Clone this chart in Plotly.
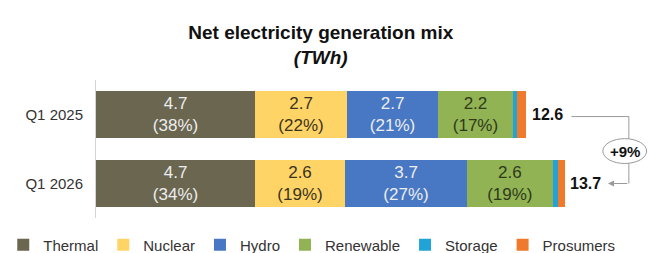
import plotly.graph_objects as go

categories = ["Q1 2025", "Q1 2026"]
series = ["Thermal", "Nuclear", "Hydro", "Renewable", "Storage", "Prosumers"]
thermal = [4.65, 4.65]
nuclear = [2.69, 2.63]
hydro = [2.66, 3.57]
renewable = [2.19, 2.50]
storage = [0.12, 0.16]
prosumers = [0.26, 0.20]
value_labels = {
    "Thermal": ["4.7", "4.7"],
    "Nuclear": ["2.7", "2.6"],
    "Hydro": ["2.7", "3.7"],
    "Renewable": ["2.2", "2.6"],
}
share_labels = {
    "Thermal": ["(38%)", "(34%)"],
    "Nuclear": ["(22%)", "(19%)"],
    "Hydro": ["(21%)", "(27%)"],
    "Renewable": ["(17%)", "(19%)"],
}
totals = [12.6, 13.7]
total_labels = ["12.6", "13.7"]
change_label = "+9%"

values = {"Thermal": thermal, "Nuclear": nuclear, "Hydro": hydro,
          "Renewable": renewable, "Storage": storage, "Prosumers": prosumers}
colors = {"Thermal": "#6A6650", "Nuclear": "#FFD466", "Hydro": "#4878C4",
          "Renewable": "#91B354", "Storage": "#22A3D8", "Prosumers": "#F07A2C"}
text_colors = {"Thermal": "#EDEDED", "Nuclear": "#3A3320", "Hydro": "#EDEDED",
               "Renewable": "#2E3A1A"}

FONT = "Liberation Sans, Arial, sans-serif"
fig = go.Figure()
for s in series:
    if s in value_labels:
        txt = [f"{v}<br>{p}" for v, p in zip(value_labels[s], share_labels[s])]
    else:
        txt = None
    fig.add_trace(go.Bar(
        name=s, y=categories, x=values[s], orientation="h",
        marker=dict(color=colors[s], line=dict(width=0)),
        text=txt, textposition="inside" if txt else "none",
        insidetextanchor="middle", constraintext="none",
        textfont=dict(family=FONT, size=17, color=text_colors.get(s, "#000")),
        hoverinfo="skip",
    ))

for c, t, lab in zip(categories, totals, total_labels):
    fig.add_annotation(x=t, y=c, text=f"<b>{lab}</b>", showarrow=False,
                       xanchor="left", xshift=3,
                       font=dict(family=FONT, size=16, color="#111"))

# bracket showing change
bx = 15.58
fig.add_shape(type="line", x0=13.9, x1=bx, y0=0.03, y1=0.03,
              line=dict(color="#9A9A9A", width=1))
fig.add_shape(type="line", x0=bx, x1=bx, y0=0.03, y1=0.35,
              line=dict(color="#9A9A9A", width=1))
fig.add_shape(type="circle", x0=14.82, x1=16.1, y0=0.35, y1=0.71,
              line=dict(color="#9A9A9A", width=1), fillcolor="white")
fig.add_shape(type="line", x0=bx, x1=bx, y0=0.71, y1=1.0,
              line=dict(color="#9A9A9A", width=1))
fig.add_annotation(x=14.97, y=1.0, ax=bx, ay=1.0, axref="x", ayref="y",
                   xref="x", yref="y", text="", showarrow=True,
                   arrowhead=2, arrowsize=1.2, arrowwidth=1, arrowcolor="#9A9A9A")
fig.add_annotation(x=(14.82 + 16.1) / 2, y=0.53, text=f"<b>{change_label}</b>",
                   showarrow=False, font=dict(family=FONT, size=15, color="#111"))

fig.update_layout(
    barmode="stack", bargap=0.32,
    width=648, height=253,
    margin=dict(l=96, r=0, t=80, b=35, autoexpand=False),
    paper_bgcolor="white", plot_bgcolor="white",
    title=dict(text="<b>Net electricity generation mix</b><br><b><i>(TWh)</i></b>",
               x=0.495, xanchor="center", y=0.845, yref="container",
               yanchor="middle",
               font=dict(family=FONT, size=19, color="#111")),
    xaxis=dict(range=[0, 16.14], visible=False, fixedrange=True),
    yaxis=dict(range=[1.5, -0.5], type="category", showgrid=False,
               automargin=False,
               showline=True, linecolor="#D5D5D5", linewidth=1,
               ticks="", ticklabelstandoff=9,
               tickfont=dict(family=FONT, size=15, color="#333")),
    showlegend=True,
    legend=dict(orientation="h", x=-0.168, xref="paper", y=-0.195,
                yref="paper", yanchor="middle", xanchor="left",
                font=dict(family=FONT, size=15, color="#333"),
                traceorder="normal", itemwidth=30, tracegroupgap=0),
)

fig.write_html("out.html", config={"displayModeBar": False},
               post_script="document.body.style.margin='0';document.body.style.padding='0';")
